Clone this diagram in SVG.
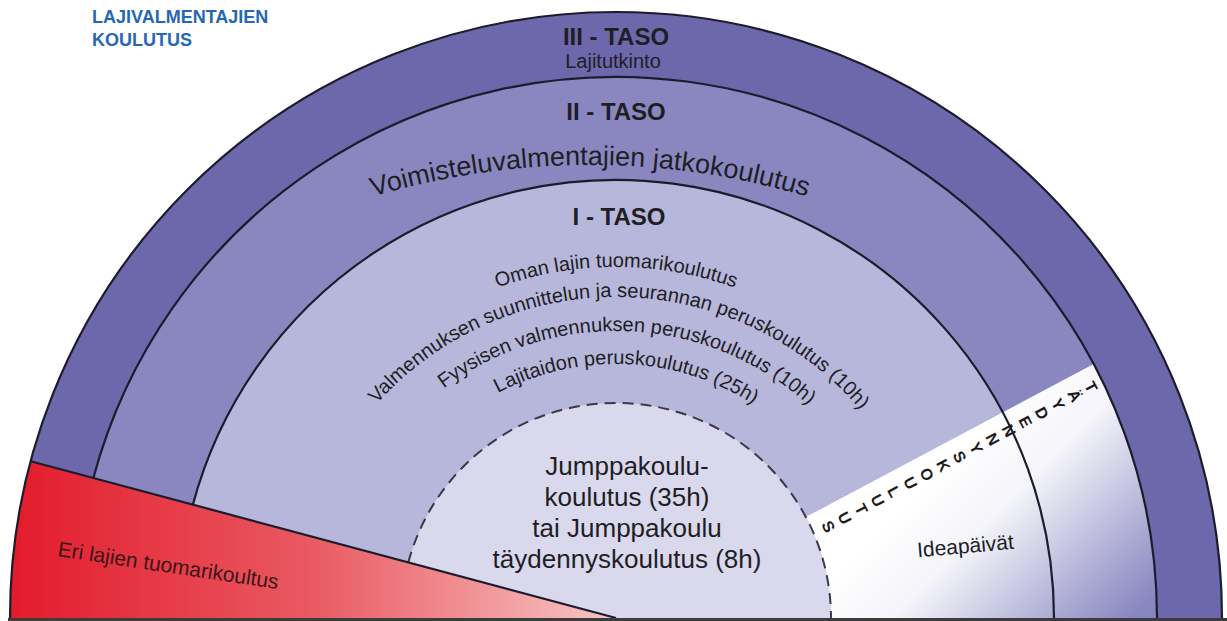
<svg xmlns="http://www.w3.org/2000/svg" width="1227" height="621" viewBox="0 0 1227 621">
<defs>
<linearGradient id="gRed" gradientUnits="userSpaceOnUse" x1="10" y1="0" x2="616" y2="0">
<stop offset="0" stop-color="#e31b2c"/><stop offset="0.5" stop-color="#e95a62"/><stop offset="1" stop-color="#f8c6c6"/>
</linearGradient>
<linearGradient id="gWhite" gradientUnits="userSpaceOnUse" x1="940" y1="470" x2="1110" y2="640">
<stop offset="0" stop-color="#ffffff"/><stop offset="0.3" stop-color="#f4f4fa"/><stop offset="1" stop-color="#8886c0"/>
</linearGradient>
<path id="arcV" d="M -170,925 A 760 760 0 0 1 1350,925"/>
<path id="arc1" d="M 265,618 A 351 351 0 0 1 967,618"/>
<path id="arc2" d="M 295,618 A 321 321 0 0 1 937,618"/>
<path id="arc3" d="M 329,618 A 287 287 0 0 1 903,618"/>
<path id="arc4" d="M 362,618 A 254 254 0 0 1 870,618"/>
</defs>
<style>
.t{font-family:"Liberation Sans",Arial,sans-serif;fill:#1e1e24}
.b{font-weight:bold}
.c{text-anchor:middle}
.line{fill:none;stroke:#1c1c2c;stroke-width:2.2}
.dash{fill:none;stroke:#3a3a44;stroke-width:2;stroke-dasharray:11 7}
.vl{font-family:"Liberation Sans",Arial,sans-serif;font-size:16px;font-weight:bold;fill:#1a1a1a;text-anchor:middle;dominant-baseline:central}
</style>
<rect width="1227" height="621" fill="#ffffff"/>
<g id="title">
<text class="t b" x="92" y="23" font-size="18" style="fill:#2567b2">LAJIVALMENTAJIEN</text>
<text class="t b" x="92" y="46" font-size="18" style="fill:#2567b2">KOULUTUS</text>
</g>
<g id="taso3">
<path d="M 10,618 A 606 606 0 0 1 1222,618 Z" fill="#6c68ab"/>
<text class="t b c" x="616" y="45" font-size="24">III - TASO</text>
<text class="t c" x="613" y="68" font-size="20">Lajitutkinto</text>
</g>
<g id="taso2">
<path d="M 75,618 A 541 541 0 0 1 1157,618 Z" fill="#8a87c0"/>
<text class="t b c" x="616" y="120" font-size="24">II - TASO</text>
<text class="t c" font-size="27"><textPath href="#arcV" startOffset="50%">Voimisteluvalmentajien jatkokoulutus</textPath></text>
</g>
<g id="taso1">
<path d="M 178,618 A 438 438 0 0 1 1054,618 Z" fill="#b7b6db"/>
<text class="t b c" x="619" y="225" font-size="24">I - TASO</text>
<text class="t c" font-size="20"><textPath href="#arc1" startOffset="551.3">Oman lajin tuomarikoulutus</textPath></text>
<text class="t c" font-size="20"><textPath href="#arc2" startOffset="508.1">Valmennuksen suunnittelun ja seurannan peruskoulutus (10h)</textPath></text>
<text class="t c" font-size="20"><textPath href="#arc3" startOffset="463.8">Fyysisen valmennuksen peruskoulutus (10h)</textPath></text>
<text class="t c" font-size="20"><textPath href="#arc4" startOffset="410">Lajitaidon peruskoulutus (25h)</textPath></text>
</g>
<g id="taydennyskoulutus">
<path d="M 805.8,517.1 L 1093.7,364.0 A 541 541 0 0 1 1157,618 L 831,618 A 215 215 0 0 0 805.8,517.1 Z" fill="url(#gWhite)"/>
<g transform="translate(1091,387) rotate(62)">
<text class="vl" x="0" y="0">T</text>
<text class="vl" x="0" y="18.6">Ä</text>
<text class="vl" x="0" y="37.2">Y</text>
<text class="vl" x="0" y="55.8">D</text>
<text class="vl" x="0" y="74.4">E</text>
<text class="vl" x="0" y="93">N</text>
<text class="vl" x="0" y="111.6">N</text>
<text class="vl" x="0" y="130.2">Y</text>
<text class="vl" x="0" y="148.8">S</text>
<text class="vl" x="0" y="167.4">K</text>
<text class="vl" x="0" y="186">O</text>
<text class="vl" x="0" y="204.6">U</text>
<text class="vl" x="0" y="223.2">L</text>
<text class="vl" x="0" y="241.8">U</text>
<text class="vl" x="0" y="260.4">T</text>
<text class="vl" x="0" y="279">U</text>
<text class="vl" x="0" y="297.6">S</text>
</g>
<text class="t c" x="966" y="553" font-size="21" transform="rotate(-5 966 553)">Ideapäivät</text>
</g>
<g id="jumppakoulu">
<path d="M 401,618 A 215 215 0 0 1 831,618 Z" fill="#d9d8ec"/>
<text class="t c" x="627" y="475" font-size="26">Jumppakoulu-</text>
<text class="t c" x="627" y="506" font-size="26">koulutus (35h)</text>
<text class="t c" x="627" y="537" font-size="26">tai Jumppakoulu</text>
<text class="t c" x="627" y="568" font-size="26">täydennyskoulutus (8h)</text>
</g>
<g id="eri-lajien">
<path d="M 616,618 L 30.7,461.2 A 606 606 0 0 0 10,618 Z" fill="url(#gRed)"/>
<text class="t" x="57" y="556" font-size="21" transform="rotate(8.5 57 556)" style="fill:#3b1618">Eri lajien tuomarikoultus</text>
</g>
<g id="connectors">
<path class="line" d="M 10,618 A 606 606 0 0 1 1222,618"/>
<path class="line" d="M 93.4,478.0 A 541 541 0 0 1 1157,618"/>
<path class="line" d="M 192.9,504.6 A 438 438 0 0 1 1054,618"/>
<path class="dash" d="M 408.3,562.4 A 215 215 0 0 1 831,618"/>
<path class="line" d="M 30.7,461.2 L 616,618"/>
<line x1="8" y1="619.5" x2="1227" y2="619.5" stroke="#3c3c3c" stroke-width="3"/>
</g>
</svg>
